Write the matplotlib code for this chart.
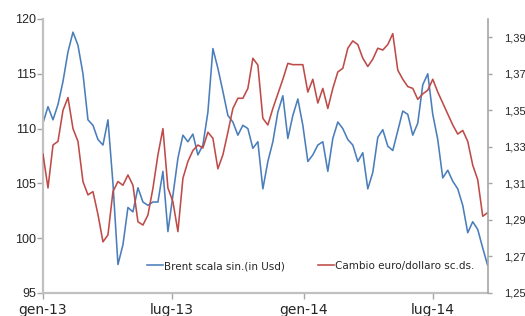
import matplotlib
matplotlib.use("Agg")
import matplotlib.pyplot as plt
import pandas as pd

# weekly observations starting 2013-01-01
start_date = "2013-01-01"
n_weeks = 90

brent = [110.5, 112.0, 110.8, 112.2, 114.3, 117.0, 118.8, 117.6, 115.0, 110.8,
         110.3, 109.0, 108.5, 110.8, 105.0, 97.6, 99.4, 102.8, 102.4, 104.6,
         103.3, 103.0, 103.3, 103.3, 106.1, 100.6, 103.9, 107.3, 109.4, 108.8,
         109.5, 107.6, 108.5, 111.5, 117.3, 115.5, 113.4, 111.2, 110.6, 109.4,
         110.3, 110.0, 108.2, 108.8, 104.5, 107.0, 108.8, 111.5, 113.0, 109.1,
         111.2, 112.7, 110.3, 107.0, 107.6, 108.5, 108.8, 106.1, 109.1, 110.6,
         110.0, 109.0, 108.5, 107.0, 107.8, 104.5, 106.0, 109.2, 109.9, 108.4,
         108.0, 109.8, 111.6, 111.3, 109.4, 110.5, 114.0, 115.0, 111.3, 109.0,
         105.5, 106.2, 105.2, 104.5, 103.0, 100.5, 101.5, 100.8, 99.1, 97.5]

eurusd = [1.326, 1.3075, 1.331, 1.333, 1.350, 1.357, 1.340, 1.333, 1.311, 1.3037,
          1.3055, 1.293, 1.278, 1.2818, 1.3055, 1.311, 1.309, 1.3146, 1.309, 1.289,
          1.2872, 1.2927, 1.3073, 1.3256, 1.340, 1.3075, 1.300, 1.2836, 1.3128, 1.322,
          1.328, 1.331, 1.3294, 1.338, 1.3347, 1.318, 1.3256, 1.338, 1.351, 1.3566,
          1.3566, 1.362, 1.3785, 1.3748, 1.3456, 1.342, 1.351, 1.359, 1.367, 1.3757,
          1.375, 1.375, 1.375, 1.360, 1.367, 1.354, 1.362, 1.351, 1.362, 1.371,
          1.373, 1.384, 1.388, 1.386, 1.3785, 1.374, 1.378, 1.384, 1.383, 1.386,
          1.392, 1.372, 1.367, 1.363, 1.362, 1.356, 1.359, 1.361, 1.367, 1.360,
          1.354, 1.348, 1.342, 1.337, 1.339, 1.333, 1.320, 1.312, 1.292, 1.294]

x_tick_dates = ["2013-01-01", "2013-07-01", "2014-01-01", "2014-07-01"]
x_tick_labels = ["gen-13", "lug-13", "gen-14", "lug-14"]
left_ticks = [95, 100, 105, 110, 115, 120]
right_ticks = [1.25, 1.27, 1.29, 1.31, 1.33, 1.35, 1.37, 1.39]
label_brent = "Brent scala sin.(in Usd)"
label_eur = "Cambio euro/dollaro sc.ds."

dates = pd.date_range(start_date, periods=n_weeks, freq="7D")

BLUE = "#4a7ebb"
RED = "#be4b48"
TXT = "#262626"

fig = plt.figure(figsize=(5.25, 3.16), dpi=100)
ax = fig.add_axes([0.0819, 0.0728, 0.929 - 0.0819, 0.9399 - 0.0728])
ax2 = ax.twinx()

l1, = ax.plot(dates, brent, color=BLUE, lw=1.15, label=label_brent)
l2, = ax2.plot(dates, eurusd, color=RED, lw=1.15, label=label_eur)

ax.set_xlim(pd.Timestamp("2013-01-01"), pd.Timestamp("2014-09-16"))
ax.set_ylim(95, 120)
ax2.set_ylim(1.25, 1.40)

ax.set_xticks(pd.to_datetime(x_tick_dates))
ax.set_xticklabels(x_tick_labels, family=["Liberation Sans Narrow", "DejaVu Sans"],
                   fontsize=10, color=TXT)
ax.set_yticks(left_ticks)
ax.set_yticklabels([str(t) for t in left_ticks], family=["Liberation Sans", "DejaVu Sans"],
                   fontsize=9, color=TXT)
ax2.set_yticks(right_ticks)
ax2.set_yticklabels([f"{t:.2f}".replace(".", ",") for t in right_ticks],
                    family=["Liberation Sans", "DejaVu Sans"], fontsize=8, color=TXT)

ax.tick_params(axis="x", direction="out", length=4, width=1, color="#a6a6a6", pad=3)
ax.tick_params(axis="y", direction="out", length=4, width=1, color="#a6a6a6", pad=1)
ax2.tick_params(axis="y", direction="out", length=3, width=1, color="#a6a6a6", pad=9)

for a in (ax, ax2):
    a.spines["top"].set_visible(False)
    a.patch.set_visible(False)
ax.spines["left"].set_color("#c0c0c0")
ax.spines["left"].set_linewidth(1.6)
ax.spines["bottom"].set_color("#c0c0c0")
ax.spines["bottom"].set_linewidth(1.6)
ax.spines["right"].set_visible(False)
ax2.spines["left"].set_visible(False)
ax2.spines["bottom"].set_visible(False)
ax2.spines["right"].set_color("#a6a6a6")
ax2.spines["right"].set_linewidth(1.2)

leg = fig.legend(handles=[l1, l2], loc="center", bbox_to_anchor=(0.592, 0.158),
                 ncol=2, frameon=False, handlelength=1.5, handletextpad=0.1,
                 columnspacing=3.2,
                 prop={"family": ["Liberation Sans Narrow", "DejaVu Sans"], "size": 7.5})
for t in leg.get_texts():
    t.set_color(TXT)

fig.savefig("out.png", dpi=100)
